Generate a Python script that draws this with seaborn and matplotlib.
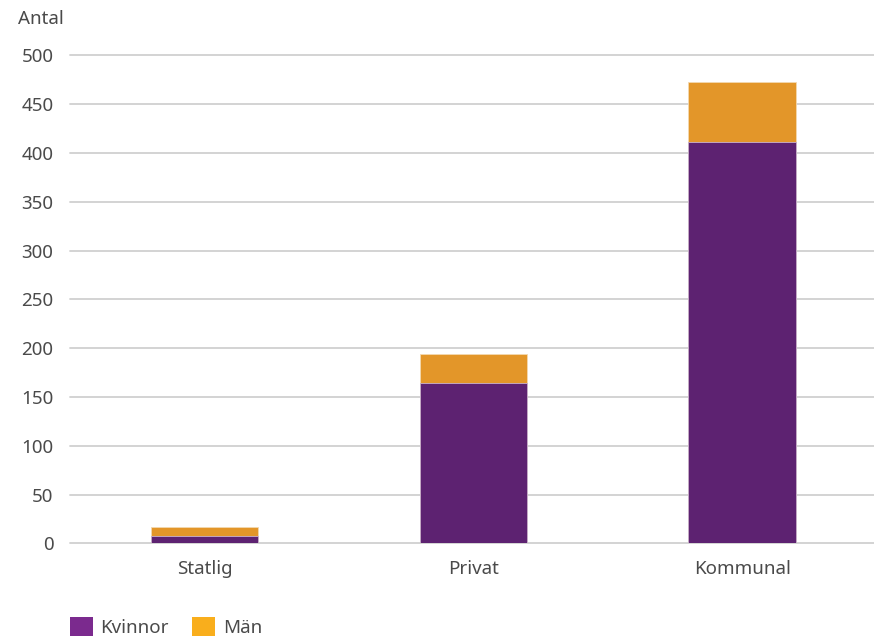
import matplotlib
matplotlib.use("Agg")
import matplotlib.pyplot as plt
from matplotlib.patches import Patch
import numpy as np
import seaborn as sns

# data
sectors = ["Statlig", "Privat", "Kommunal"]
kvinnor = [7, 164, 411]
man = [10, 30, 62]
y_ticks = [0, 50, 100, 150, 200, 250, 300, 350, 400, 450, 500]

bar_purple = "#5D2271"
bar_orange = "#E39629"
legend_purple = "#7B2A8E"
legend_orange = "#F9AE1C"
text_color = "#4A4A4A"
grid_color = "#D0D0D0"

sns.set_theme(style="white")
plt.rcParams["font.family"] = ["Noto Sans", "DejaVu Sans"]
plt.rcParams["font.weight"] = "light"

fig = plt.figure(figsize=(8.74, 6.37), dpi=100)
ax = fig.add_axes([70 / 874, 93.7 / 637, 1 - 70 / 874, (543.3 - 55.5) / 637])

# stacked bars: totals (Män on top) drawn first, Kvinnor over them
totals = np.array(kvinnor) + np.array(man)
sns.barplot(x=sectors, y=totals, color=bar_orange, saturation=1, width=0.4,
            edgecolor="#F3D9B0", linewidth=0.6, ax=ax, zorder=3)
sns.barplot(x=sectors, y=kvinnor, color=bar_purple, saturation=1, width=0.4,
            edgecolor="#C9B3CF", linewidth=0.6, ax=ax, zorder=4)

ax.set_xlim(-0.5, 2.49)
ax.set_ylim(0, 500)
ax.set_yticks(y_ticks)
ax.yaxis.grid(True, color=grid_color, linewidth=1.3, zorder=0)
ax.set_axisbelow(True)
for line in ax.get_ygridlines():
    line.set_clip_on(False)
for s in ax.spines.values():
    s.set_visible(False)
ax.tick_params(axis="both", length=0, labelsize=13.5, colors=text_color)
ax.tick_params(axis="y", pad=12)
ax.tick_params(axis="x", pad=12)
ax.set_xlabel("")
ax.set_ylabel("")

fig.text(18 / 874, 1 - 19 / 637, "Antal", fontsize=13.5, color=text_color,
         va="center", ha="left")

handles = [Patch(facecolor=legend_purple, edgecolor="none", label="Kvinnor"),
           Patch(facecolor=legend_orange, edgecolor="none", label="Män")]
fig.legend(handles=handles, loc="lower left", bbox_to_anchor=(70 / 874, 0.0),
           ncol=2, frameon=False, fontsize=13.5, labelcolor=text_color,
           handlelength=1.22, handleheight=1.22, handletextpad=0.4,
           columnspacing=1.25, borderpad=0, borderaxespad=0)

fig.savefig("out.png", dpi=100)
